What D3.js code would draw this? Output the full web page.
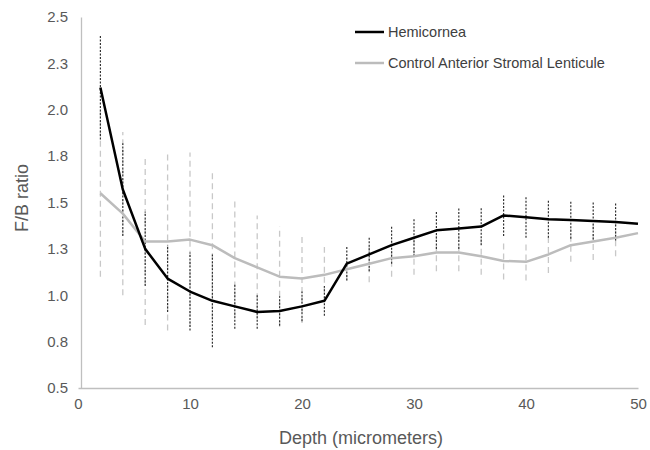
<!DOCTYPE html>
<html>
<head>
<meta charset="utf-8">
<script src="https://cdn.jsdelivr.net/npm/d3@7"></script>
<style>
	body { margin: 0; background: #fff; }
	text { font-family: "Liberation Sans", Arial, sans-serif; }
</style>
</head>
<body>
<div id="chart"></div>
<script>
	// depth in micrometers
	const depth = [2, 4, 6, 8, 10, 12, 14, 16, 18, 20, 22, 24, 26, 28, 30, 32, 34, 36, 38, 40, 42, 44, 46, 48, 50];
	const hemicornea = [2.12, 1.57, 1.25, 1.09, 1.02, 0.97, 0.94, 0.91, 0.915, 0.94, 0.97, 1.17, 1.22, 1.27, 1.31, 1.35, 1.36, 1.37, 1.43, 1.42, 1.41, 1.405, 1.40, 1.395, 1.385];
	const hemiErr = [0.28, 0.25, 0.2, 0.18, 0.21, 0.25, 0.12, 0.09, 0.08, 0.08, 0.08, 0.09, 0.09, 0.1, 0.1, 0.1, 0.11, 0.1, 0.11, 0.11, 0.1, 0.1, 0.1, 0.1, null];
	const control = [1.55, 1.44, 1.29, 1.29, 1.30, 1.27, 1.20, 1.15, 1.10, 1.09, 1.11, 1.14, 1.17, 1.20, 1.21, 1.23, 1.23, 1.21, 1.185, 1.18, 1.22, 1.27, 1.29, 1.31, 1.335];
	const ctrlErr = [0.45, 0.44, 0.45, 0.48, 0.47, 0.40, 0.32, 0.28, 0.27, 0.24, 0.15, 0.06, 0.1, 0.1, 0.1, 0.1, 0.1, 0.1, 0.1, 0.1, 0.1, 0.09, 0.1, 0.1, null];
	const yTicks = [0.5, 0.75, 1.0, 1.25, 1.5, 1.75, 2.0, 2.25, 2.5];
	const xTicks = [0, 10, 20, 30, 40, 50];
	const seriesNames = ["Hemicornea", "Control Anterior Stromal Lenticule"];

	var width = 650, height = 450;
	var svg = d3.select("#chart").append("svg").attr("width", width).attr("height", height);

	var x = d3.scaleLinear().domain([0, 50]).range([78, 638]);
	var y = d3.scaleLinear().domain([0.5, 2.5]).range([388, 17]);

	const tickColor = "#595959", axisColor = "#bfbfbf";

	// axes
	var yAxis = svg.append("g").attr("transform", "translate(81,0)")
		.call(d3.axisLeft(y).tickValues(yTicks).tickSize(0).tickPadding(13).tickFormat(d3.format(".1f")));
	var xAxis = svg.append("g").attr("transform", "translate(0,388)")
		.call(d3.axisBottom(x).tickValues(xTicks).tickSize(0).tickPadding(10));
	[yAxis, xAxis].forEach(a => {
		a.select(".domain").attr("stroke", axisColor).attr("stroke-width", 1.3);
		a.selectAll("text").attr("fill", tickColor).style("font-size", "15px");
	});

	// axis titles
	svg.append("text").attr("x", 361).attr("y", 444).attr("text-anchor", "middle")
		.attr("fill", tickColor).style("font-size", "18px").text("Depth (micrometers)");
	svg.append("text").attr("transform", "translate(28,198) rotate(-90)").attr("text-anchor", "middle")
		.attr("fill", tickColor).style("font-size", "18px").text("F/B ratio");

	const ctrlRows = depth.map((d, i) => ({ d, v: control[i], e: ctrlErr[i] }));
	const hemiRows = depth.map((d, i) => ({ d, v: hemicornea[i], e: hemiErr[i] }));

	// error bars
	svg.append("g").selectAll("line").data(ctrlRows.filter(r => r.e)).join("line")
		.attr("x1", r => x(r.d)).attr("x2", r => x(r.d))
		.attr("y1", r => y(r.v - r.e)).attr("y2", r => y(r.v + r.e))
		.attr("stroke", "#c8c8c8").attr("stroke-width", 1.3).attr("stroke-dasharray", "6,4");
	svg.append("g").selectAll("line").data(hemiRows.filter(r => r.e)).join("line")
		.attr("x1", r => x(r.d)).attr("x2", r => x(r.d))
		.attr("y1", r => y(r.v - r.e)).attr("y2", r => y(r.v + r.e))
		.attr("stroke", "#333").attr("stroke-width", 1.2).attr("stroke-dasharray", "2,1.5");

	var line = d3.line().x(r => x(r.d)).y(r => y(r.v));
	svg.append("path").datum(ctrlRows).attr("d", line)
		.attr("fill", "none").attr("stroke", "#bcbcbc").attr("stroke-width", 2.5).attr("stroke-linejoin", "round");
	svg.append("path").datum(hemiRows).attr("d", line)
		.attr("fill", "none").attr("stroke", "#000").attr("stroke-width", 2.5).attr("stroke-linejoin", "round");

	// legend
	const legendColors = ["#000", "#bcbcbc"];
	var legend = svg.append("g").selectAll("g").data(seriesNames).join("g")
		.attr("transform", (d, i) => `translate(355,${32 + i * 31})`);
	legend.append("line").attr("x1", 0).attr("x2", 29)
		.attr("stroke", (d, i) => legendColors[i]).attr("stroke-width", 2.5);
	legend.append("text").attr("x", 33).attr("dy", "0.35em")
		.attr("fill", "#404040").style("font-size", "14.5px").text(d => d);
</script>
</body>
</html>
